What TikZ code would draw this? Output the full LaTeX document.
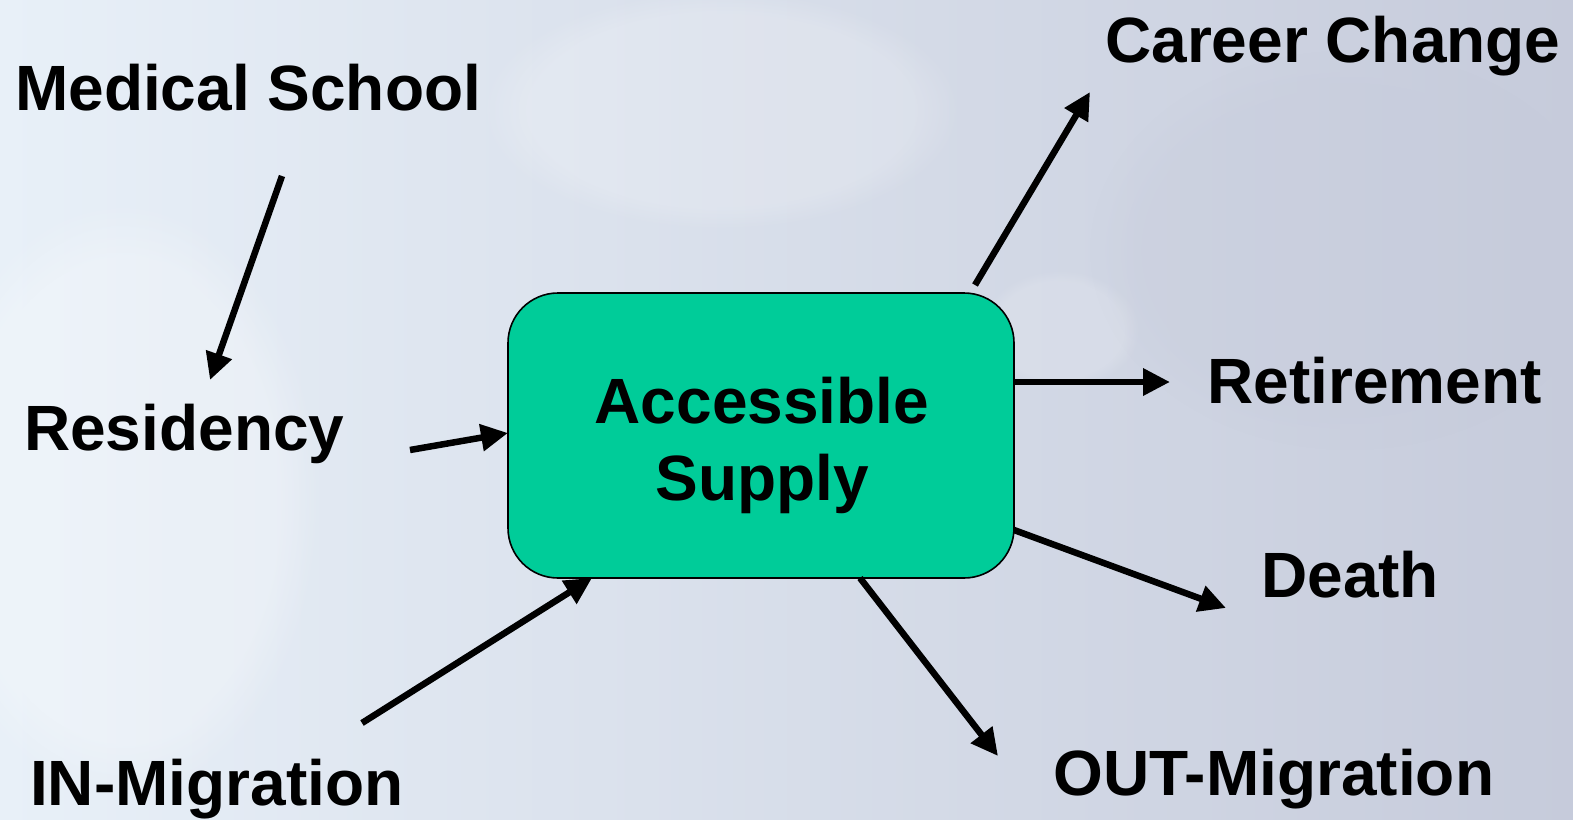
\documentclass[tikz,border=0pt]{standalone}
\usepackage{fontspec}
\setmainfont{Liberation Sans}
\usetikzlibrary{arrows.meta,fadings}

\definecolor{bgleft}{HTML}{E8F0F8}
\definecolor{bgright}{HTML}{C6CBDB}
\definecolor{supply}{HTML}{00CC99}

\tikzset{
  label/.style={anchor=base west, inner sep=0pt, font=\fontsize{64}{77}\selectfont\bfseries},
  flow/.style={line width=6.5pt, -{Triangle[length=27pt,width=26pt]}},
  stockbox/.style={draw=black, line width=1.6pt, fill=supply, rounded corners=50pt,
    minimum width=506pt, minimum height=285pt, inner sep=0pt},
  stocktext/.style={align=center, inner sep=0pt, font=\fontsize{64}{77}\selectfont\bfseries},
}

\begin{document}
\begin{tikzpicture}[x=1pt,y=-1pt]
  % backdrop
  \useasboundingbox (0,0) rectangle (1573,819);
  \shade[left color=bgleft, right color=bgright] (0,0) rectangle (1573,819);
  \fill[white, opacity=0.18, path fading=circle with fuzzy edge 20 percent] (720,110) ellipse (240pt and 120pt);
  \fill[white, opacity=0.15, path fading=circle with fuzzy edge 20 percent] (1060,330) ellipse (80pt and 60pt);
  \fill[white, opacity=0.25, path fading=circle with fuzzy edge 20 percent] (120,500) ellipse (200pt and 300pt);
  \fill[bgright, opacity=0.30, path fading=circle with fuzzy edge 20 percent] (1350,250) ellipse (260pt and 200pt);

  % central stock
  \node[stockbox] (supply) at (761,435.5) {};
  \node[stocktext] (supplytxt) at (762,445) {Accessible\\Supply};

  % labels
  \node[label] (med)  at (15,110)   {Medical School};
  \node[label] (res)  at (24,450)   {Residency};
  \node[label] (inm)  at (30,805)   {IN-Migration};
  \node[label] (car)  at (1105,62)  {Career Change};
  \node[label] (ret)  at (1207,403) {Retirement};
  \node[label] (dth)  at (1261,597) {Death};
  \node[label] (outm) at (1053,795) {OUT-Migration};

  % arrow end points
  \coordinate (medS) at (282,176);
  \coordinate (resE) at (210,380);
  \coordinate (resS) at (410,450);
  \coordinate (inS)  at (362,723);
  \coordinate (carS) at (975,285);
  \coordinate (carE) at (1090,92);
  \coordinate (retE) at (1170,382);
  \coordinate (dthE) at (1226,608);
  \coordinate (outE) at (998,756);

  % flows
  \draw[flow] (medS) -- (resE);
  \draw[flow] (resS) -- (508,433);
  \draw[flow] (inS) -- (592,578);
  \draw[flow] (carS) -- (carE);
  \draw[flow] (1014,382) -- (retE);
  \draw[flow] (1014,530) -- (dthE);
  \draw[flow] (860,578) -- (outE);
\end{tikzpicture}
\end{document}
